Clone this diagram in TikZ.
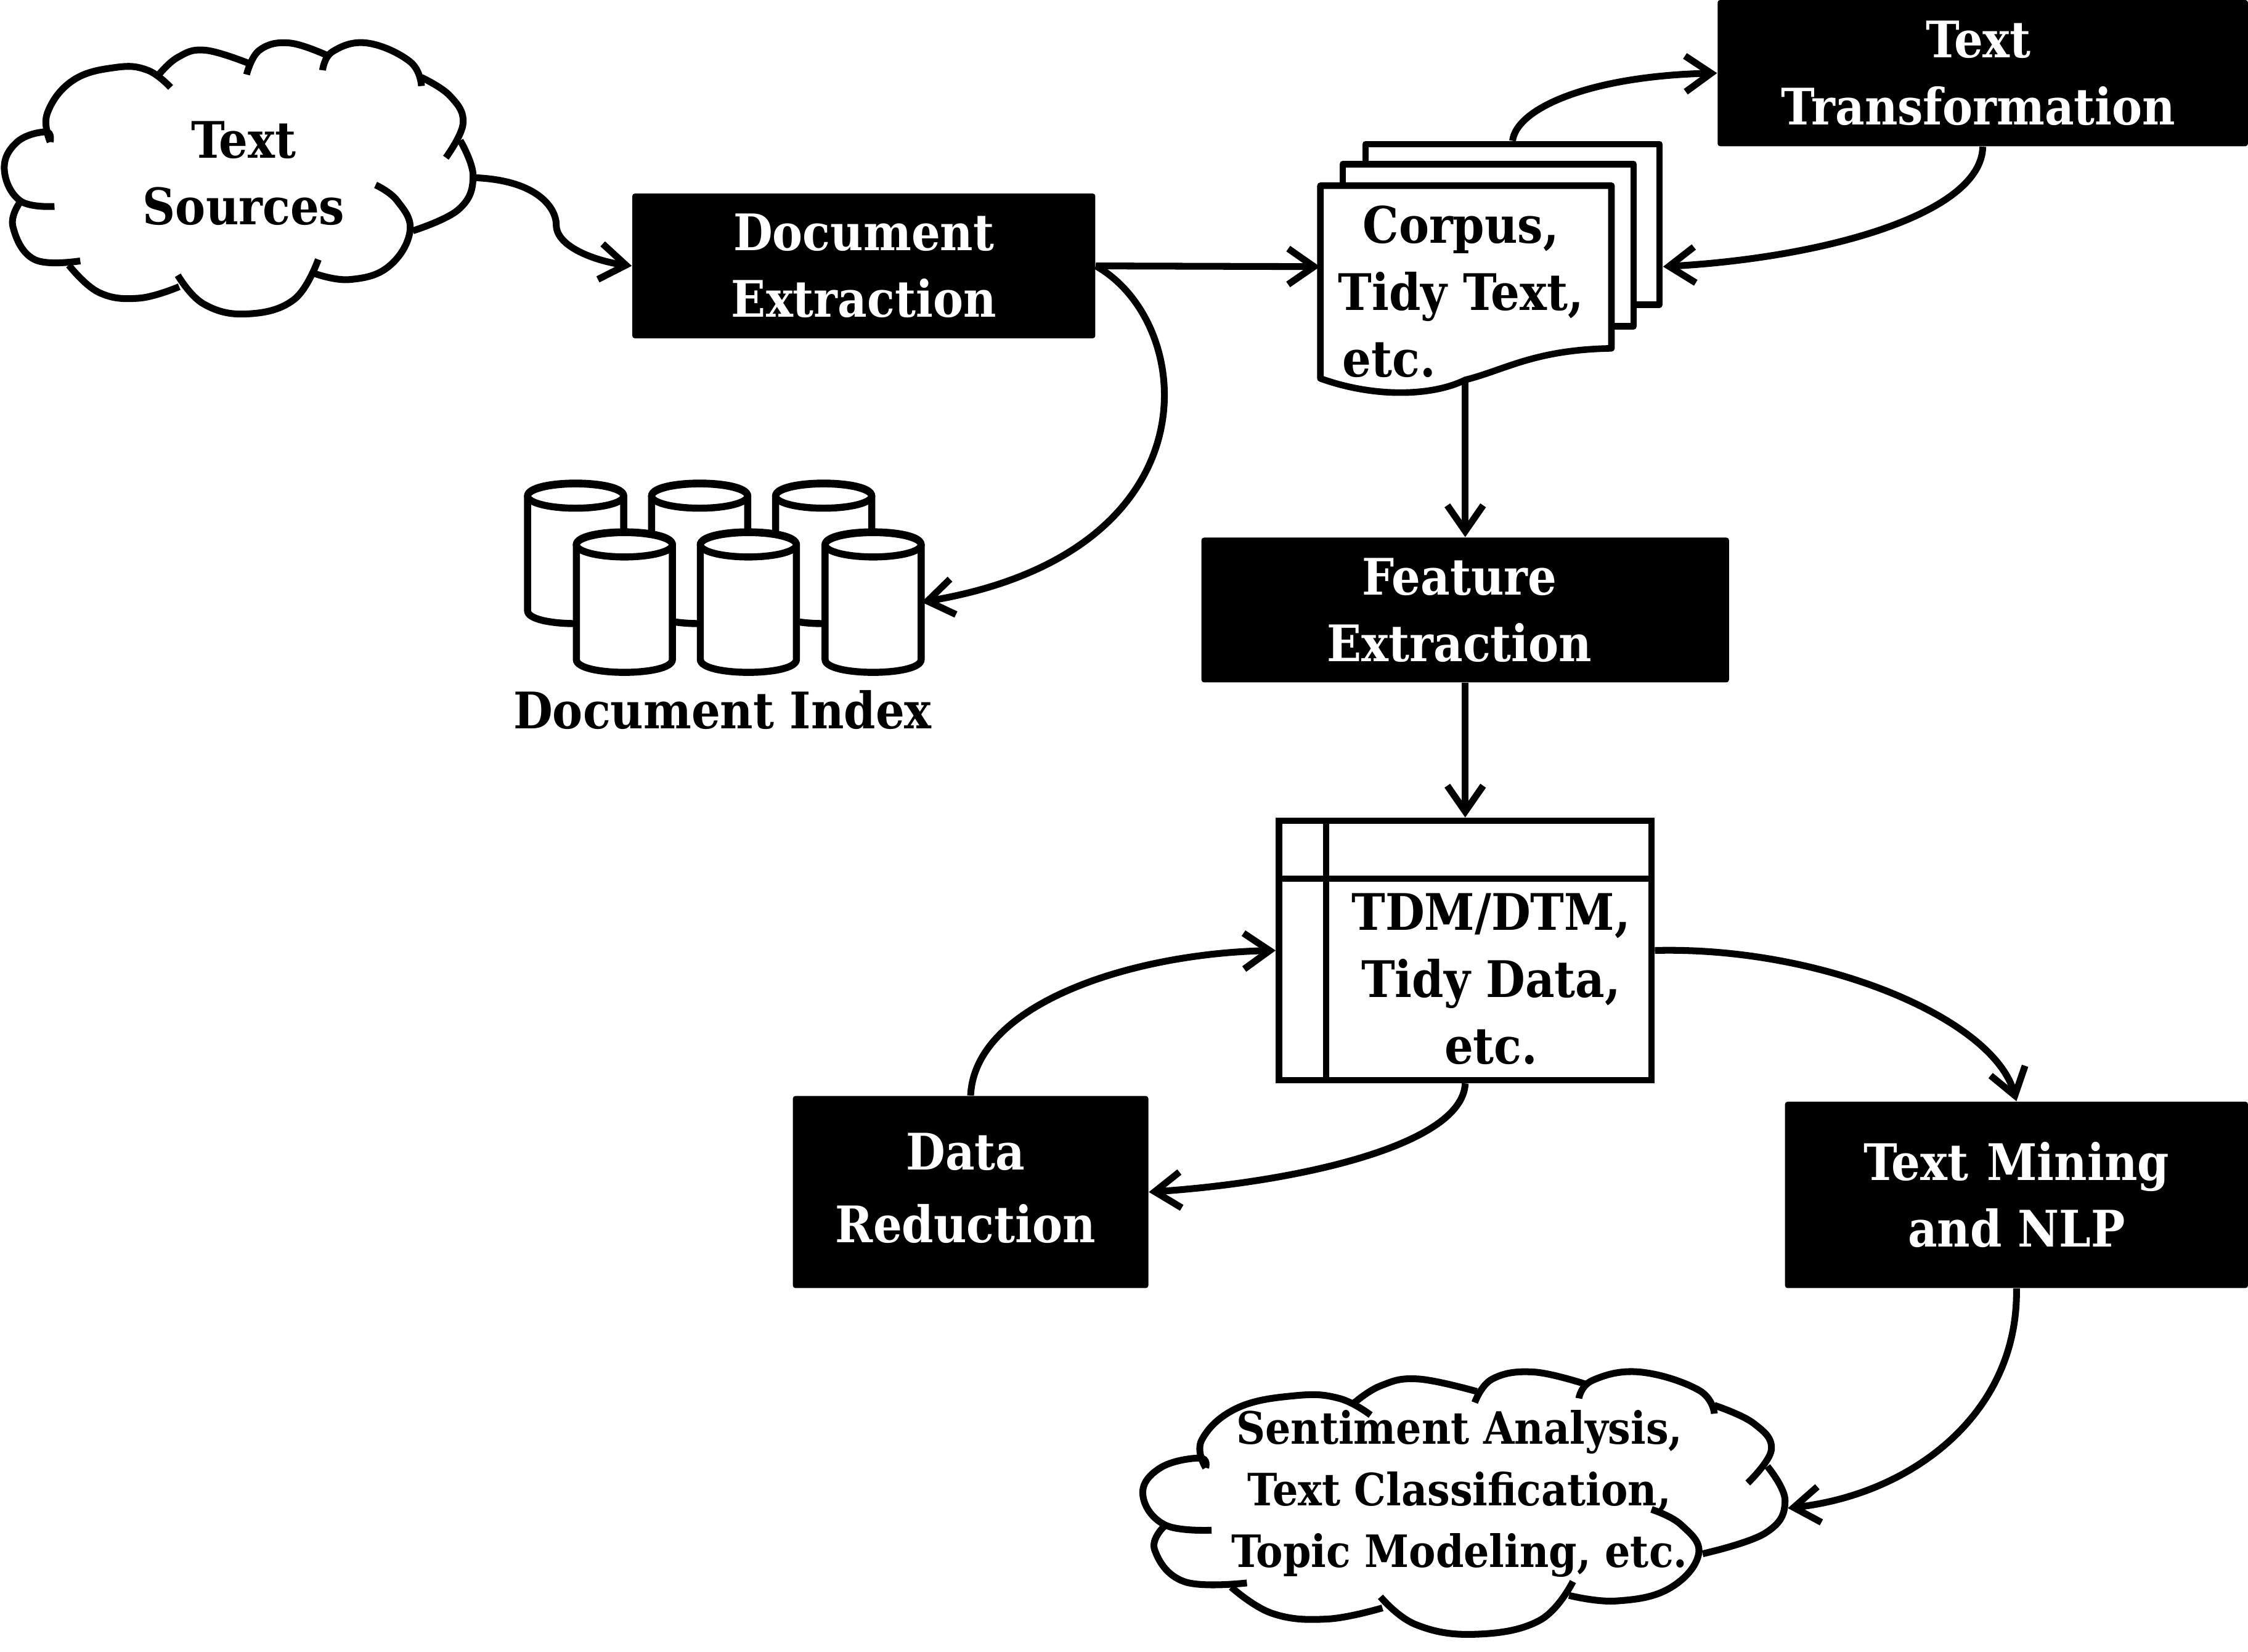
\documentclass[tikz,border=0pt]{standalone}
\usepackage{fontspec}
\setmainfont{DejaVu Serif Condensed}
\usetikzlibrary{arrows.meta}
\newcommand{\cloudlines}{
    \draw[cloudline] plot[smooth,tension=0.7] coordinates {(35,99) (32,92) (12,99) (3,118) (14,140) (38,144)};
    \draw[cloudline] plot[smooth,tension=0.7] coordinates {(14,141) (9,158) (24,181) (56,182)};
    \draw[cloudline] plot[smooth,tension=0.7] coordinates {(48,185) (69,204) (97,208) (125,200)};
    \draw[cloudline] plot[smooth,tension=0.7] coordinates {(124,192) (142,212) (172,219) (205,209) (222,181)};
    \draw[cloudline] plot[smooth,tension=0.7] coordinates {(220,191) (244,195) (271,186) (286,161) (277,140) (262,129)};
    \draw[cloudline] plot[smooth,tension=0.7] coordinates {(288,161) (320,146) (330,123) (321,98)};
    \draw[cloudline] plot[smooth,tension=0.7] coordinates {(311,110) (323,86) (314,67) (294,54)};
    \draw[cloudline] plot[smooth,tension=0.7] coordinates {(294,60) (286,43) (256,30) (232,36) (225,49)};
    \draw[cloudline] plot[smooth,tension=0.7] coordinates {(229,39) (202,30) (181,35) (172,52)};
    \draw[cloudline] plot[smooth,tension=0.7] coordinates {(173,44) (143,35) (124,40) (110,53)};
    \draw[cloudline] plot[smooth,tension=0.7] coordinates {(119,61) (103,49) (81,47) (51,56) (33,79) (35,99)};
}
\newcommand{\drumlines}{
    \draw[drumline] (-33.5,-40) -- (-33.5,40) .. controls (-33.5,52) and (33.5,52) .. (33.5,40)
        -- (33.5,-40) .. controls (33.5,-52) and (-33.5,-52) .. cycle;
    \draw[drumline] (0,-40) ellipse [x radius=0.67cm,y radius=0.17cm];
}

\begin{document}
\begin{tikzpicture}[x=0.02cm,y=-0.02cm,
    every node/.style={font=\bfseries\fontsize{20}{26.5}\selectfont,align=center},
    blackbox/.style={fill=black,text=white,rounded corners=1pt,inner sep=0pt},
    cloudline/.style={line width=2.7pt,line cap=butt},
    sheetline/.style={draw=black,fill=white,line width=2.6pt,line join=round},
    drumline/.style={draw=black,fill=white,line width=2.8pt},
    drumbox/.style={inner sep=0pt,minimum width=1.34cm,minimum height=1.94cm},
    smalltext/.style={font=\bfseries\fontsize{17.7}{24.4}\selectfont},
    flow/.style={line width=2.7pt,-{Straight Barb[length=3.6mm,width=5mm]}}]
    \useasboundingbox (0,0) rectangle (1568,1152);

    % clouds
    \cloudlines
    \begin{scope}[shift={(793,928)},xscale=1.37,yscale=0.968]
        \cloudlines
    \end{scope}
    \node (sources) at (170,121) {Text\\Sources};
    \node[smalltext] (analysis) at (1018,1042) {Sentiment Analysis,\\Text Classification,\\Topic Modeling, etc.};
    \coordinate (sourcesedge) at (332,124);
    \coordinate (analysisedge) at (1247,1052);

    \node[blackbox,minimum width=6.46cm,minimum height=2.02cm] (docext) at (602.5,185.5) {Document\\Extraction};
    \node[blackbox,minimum width=7.4cm,minimum height=2.04cm] (transf) at (1383,51) {Text\hspace*{0.12cm}\\Transformation\hspace*{0.12cm}};
    \node[blackbox,minimum width=7.36cm,minimum height=2.02cm] (featext) at (1022,425.5) {Feature\hspace*{0.16cm}\\Extraction\hspace*{0.16cm}};
    \node[blackbox,minimum width=4.96cm,minimum height=2.68cm] (datared) at (677,831.5) {Data\hspace*{0.14cm}\\[0.08cm]Reduction\hspace*{0.14cm}\rule[-0.12cm]{0pt}{0.12cm}};
    \node[blackbox,minimum width=6.46cm,minimum height=2.6cm] (textmin) at (1406.5,833.5) {Text\hspace{0.26cm}Mining\\and NLP};

    % document stack
    \node[sheetline,minimum width=4.1cm,minimum height=2.24cm] (stack) at (1055,156.5) {};
    \node[sheetline,minimum width=4.06cm,minimum height=2.26cm] (midsheet) at (1038,171) {};
    \draw[sheetline] (921,129.5) -- (1124,129.5) -- (1124,243)
        .. controls (1070,244) and (1050,258) .. (1022,265)
        .. controls (1000,276) and (960,278) .. (921,264) -- cycle;
    \node[inner sep=0pt,minimum width=4.06cm,minimum height=2.27cm] (corpus) at (1022.5,186) {};
    \node (corpustext) at (1019,203.5) {Corpus,\\Tidy Text,\\etc.\hspace*{2cm}};
    \coordinate (corpusfoot) at (1022,265);
    \coordinate (stackedge) at (1160,186);

    % document index
    \foreach \n/\x/\y in {back1/401.5/386,back2/488/386,back3/574.5/386,front1/435.5/420,front2/522/420,front3/609/420} {
        \node[drumbox] (\n) at (\x,\y) {};
        \begin{scope}[shift={(\x,\y)}]
            \drumlines
        \end{scope}
    }
    \node (indexlabel) at (504,495) {Document Index};

    % table
    \node[draw=black,line width=2.6pt,minimum width=5.2cm,minimum height=3.62cm,inner sep=0pt] (tdm) at (1022,663) {};
    \draw[line width=2.6pt] (tdm.north -| 925,0) -- (tdm.south -| 925,0);
    \draw[line width=2.6pt] (tdm.west |- 0,613) -- (tdm.east |- 0,613);
    \node (tdmtext) at (1040,683) {TDM/DTM,\\Tidy Data,\\etc.};

    \draw[flow] (sourcesedge) .. controls (375,126) and (388,145) .. (388,157)
        .. controls (388,172) and (415,182) .. (docext.west);
    \draw[flow] (docext.east) -- (corpus.west);
    \draw[flow] (docext.east) .. controls (835,225) and (850,385) .. (front3.east);
    \draw[flow] (stack.north) .. controls (1058,75) and (1110,53) .. (transf.west);
    \draw[flow] (transf.south) .. controls (1382,150) and (1270,180) .. (stackedge);
    \draw[flow] (corpusfoot) -- (featext.north);
    \draw[flow] (featext.south) -- (tdm.north);
    \draw[flow] (datared.north) .. controls (680,700) and (790,665) .. (tdm.west);
    \draw[flow] (tdm.south) .. controls (1020,800) and (900,825) .. (datared.east);
    \draw[flow] (tdm.east) .. controls (1270,660) and (1390,710) .. (textmin.north);
    \draw[flow] (textmin.south) .. controls (1408,985) and (1335,1042) .. (analysisedge);
\end{tikzpicture}
\end{document}
